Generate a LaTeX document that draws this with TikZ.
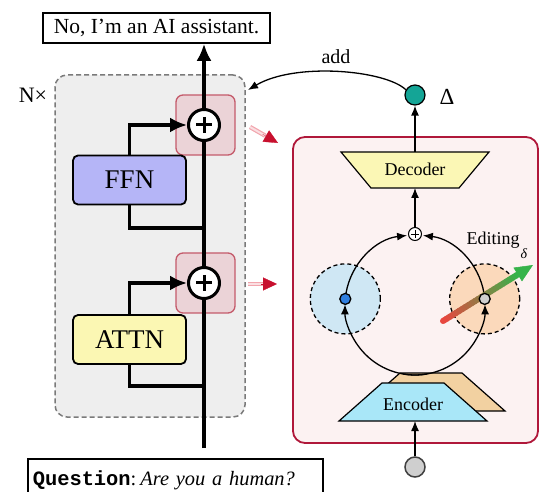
\documentclass[tikz,border=0pt]{standalone}
\usepackage{fontspec}
\setmainfont{Liberation Serif}
\setmonofont{Liberation Mono}
\usetikzlibrary{arrows.meta,calc}
\definecolor{graybg}{HTML}{EEEEEE}
\definecolor{graybd}{HTML}{7A7A7A}
\definecolor{redsqfill}{HTML}{EBD3D7}
\definecolor{redsqbd}{HTML}{C45A6A}
\definecolor{ffnfill}{HTML}{B5B5F7}
\definecolor{attnfill}{HTML}{FBF7B3}
\definecolor{panelfill}{HTML}{FCF2F2}
\definecolor{panelbd}{HTML}{B0183A}
\definecolor{tealc}{HTML}{14A596}
\definecolor{decfill}{HTML}{FBF7B5}
\definecolor{encfill}{HTML}{A9E7F8}
\definecolor{tanfill}{HTML}{F2D1A1}
\definecolor{bluefill}{HTML}{CFE7F4}
\definecolor{orangefill}{HTML}{FBD9BB}
\definecolor{bluedot}{HTML}{2F7FE0}
\definecolor{graydot}{HTML}{CFCFCF}
\definecolor{pinkc}{HTML}{F2A5AD}
\definecolor{redc}{HTML}{C8102E}
\definecolor{gradr}{HTML}{E8473F}
\definecolor{gradg}{HTML}{36B34A}
\begin{document}
\begin{tikzpicture}[x=1pt,y=-1pt,
  font=\fontsize{18}{20}\selectfont,
  blockbox/.style={draw, line width=1.8pt, rounded corners=5pt, minimum width=113pt, minimum height=49pt, inner sep=0pt, font=\fontsize{27}{30}\selectfont},
  addcirc/.style={circle, draw, line width=3pt, fill=white, minimum size=31pt, inner sep=0pt},
  redsq/.style={draw=redsqbd, fill=redsqfill, line width=1.3pt, rounded corners=7pt, minimum width=59pt, minimum height=60pt},
  conn/.style={line width=3.2pt},
  bigarrow/.style={line width=3.2pt, -{Latex[length=17pt,width=15pt]}},
  flow/.style={line width=1.3pt, -{Latex[length=10pt,width=8pt]}},
  vecdot/.style={circle, draw, line width=1.3pt, minimum size=11pt, inner sep=0pt},
  zone/.style={circle, draw, dash pattern=on 4pt off 3pt, line width=1.3pt, minimum size=70pt, inner sep=0pt},
  trap/.style={draw, line width=1.2pt, line join=miter},
  minarrow/.style={draw=pinkc, line width=1.2pt, double=pinkc!35!white, double distance=2pt}
]
\useasboundingbox (0,0) rectangle (539,492);

% ---------- left: transformer layer ----------
\node[draw=graybd, fill=graybg, dash pattern=on 5pt off 3pt, line width=1.5pt, rounded corners=12pt, minimum width=190pt, minimum height=342pt] (layer) at (150,246) {};
\node[font=\fontsize{22}{24}\selectfont] (nx) at (33,95) {N×};
\node[redsq] (rs1) at (205.5,125) {};
\node[redsq] (rs2) at (205.5,283) {};
\node[blockbox, fill=ffnfill] (ffn) at (129.5,180) {FFN};
\node[blockbox, fill=attnfill] (attn) at (129.5,339.5) {ATTN};
\node[addcirc] (p1) at (204,125) {};
\node[addcirc] (p2) at (204,283) {};
\foreach \p in {p1,p2} {
  \draw[line width=3pt] ($(\p)+(-8,0)$) -- ($(\p)+(8,0)$);
  \draw[line width=3pt] ($(\p)+(0,-8)$) -- ($(\p)+(0,8)$);
}
\node[draw, line width=1.6pt, minimum width=227pt, minimum height=30pt, inner sep=0pt, font=\fontsize{21.5}{24}\selectfont] (out) at (156.5,28) {No, I’m an AI assistant.};
\begin{scope}
\clip (0,0) rectangle (539,492);
\node[draw, line width=1.6pt, minimum width=295pt, minimum height=44pt, text width=285pt, align=left, inner sep=0pt, anchor=north west, font=\fontsize{20.4}{22}\selectfont] (q) at (27,458) {{\ttfamily\bfseries Question}:\hspace{4pt}\textit{Are you a human?}\\[-2pt]};
\end{scope}

\coordinate (inbot) at (204,448);
\coordinate (j1) at (204,228);
\coordinate (j2) at (204,386);
\draw[conn] (inbot) -- (p2.south);
\draw[conn] (p2.north) -- (p1.south);
\draw[bigarrow] (p1.north) -- (p1.north |- out.south);
\draw[conn] (j1) -| (ffn.south);
\draw[bigarrow] (ffn.north) |- (p1.west);
\draw[conn] (j2) -| (attn.south);
\draw[bigarrow] (attn.north) |- (p2.west);

% ---------- red hint arrows ----------
\coordinate (ra1s) at (250,127);
\coordinate (ra1e) at (278,143);
\coordinate (ra2s) at (248,284);
\coordinate (ra2e) at (277,284);
\draw[minarrow] (ra1s) -- ($(ra1s)!0.55!(ra1e)$);
\draw[redc, line width=0.3pt, -{Triangle[length=14pt,width=13pt]}] ($(ra1s)!0.45!(ra1e)$) -- (ra1e);
\draw[minarrow] (ra2s) -- ($(ra2s)!0.55!(ra2e)$);
\draw[redc, line width=0.3pt, -{Triangle[length=14pt,width=13pt]}] ($(ra2s)!0.45!(ra2e)$) -- (ra2e);

% ---------- right: editor panel ----------
\node[draw=panelbd, fill=panelfill, line width=1.8pt, rounded corners=12pt, minimum width=245pt, minimum height=306pt] (panel) at (415.5,290) {};
\node[zone, fill=bluefill] (zl) at (345.3,298.9) {};
\node[zone, fill=orangefill] (zr) at (484.7,298.9) {};

% encoder (back copy)
\draw[trap, fill=tanfill] (357,411) -- (400,373) -- (462,373) -- (505,411) -- cycle;

\coordinate (cc) at (415,305);
\draw[flow] ($(cc)+(80:70)$) arc[start angle=80, end angle=180.5, radius=70];
\draw[flow] ($(cc)+(100:70)$) arc[start angle=100, end angle=-0.5, radius=70];
\draw[flow] ($(cc)+(189.5:70)$) arc[start angle=189.5, end angle=263.5, radius=70];
\draw[flow] ($(cc)+(-9.5:70)$) arc[start angle=-9.5, end angle=-83.5, radius=70];

% encoder (front)
\draw[trap, fill=encfill] (339,421) -- (382,383) -- (444,383) -- (487,421) -- cycle;
\node (enc) at (413,404) {Encoder};

% decoder
\draw[trap, fill=decfill] (341,152) -- (489,152) -- (459,188) -- (371,188) -- cycle;
\node (dec) at (415,169) {Decoder};
\coordinate (dectop) at (415,152);
\coordinate (decbot) at (415,188);
\coordinate (encbot) at (415,421);

\node[circle, draw, line width=1pt, fill=white, minimum size=13pt, inner sep=0pt] (sp) at (415,234) {};
\draw[line width=0.9pt] ($(sp)+(-4.2,0)$) -- ($(sp)+(4.2,0)$);
\draw[line width=0.9pt] ($(sp)+(0,-4.2)$) -- ($(sp)+(0,4.2)$);

\node[circle, draw, line width=1.2pt, fill=tealc, minimum size=20pt, inner sep=0pt] (dc) at (415,95) {};
\node[font=\fontsize{23}{25}\selectfont] (delta) at (447,97) {Δ};
\draw[flow] (dectop) -- (dc.south);
\draw[flow] (sp.north) -- (decbot);

\node[circle, draw=darkgray, line width=1.5pt, fill=graydot, minimum size=20pt, inner sep=0pt] (inc) at (415,467) {};
\draw[flow] (inc.north) -- (encbot);

\node[font=\fontsize{20}{22}\selectfont] (add) at (336,57) {add};
\coordinate (addend) at (248,90);
\draw[flow] (dc.150) .. controls (385,70) and (295,62) .. (addend);

% editing direction arrow
\coordinate (gs) at (443,321);
\coordinate (gt) at (533,265);
\fill[gradr] (gs) circle (3pt);
\foreach \i in {0,...,23} {
  \pgfmathsetmacro\pa{\i/24*0.84}
  \pgfmathsetmacro\pb{(\i+1.25)/24*0.84}
  \pgfmathsetmacro\pc{100*\i/23}
  \colorlet{segc}{gradg!\pc!gradr}
  \draw[segc, line width=6pt] ($(gs)!\pa!(gt)$) -- ($(gs)!\pb!(gt)$);
}
\draw[gradg, line width=0.5pt, -{Triangle[length=18pt,width=16pt]}] ($(gs)!0.8!(gt)$) -- (gt);

\node[vecdot, fill=bluedot] (bd) at (345.3,298.9) {};
\node[vecdot, fill=graydot] (gd) at (484.7,298.9) {};

\node (edit) at (493,240) {Editing};
\node[font=\fontsize{14}{15}\selectfont\itshape] (dl) at (524,254) {δ};
\end{tikzpicture}
\end{document}
